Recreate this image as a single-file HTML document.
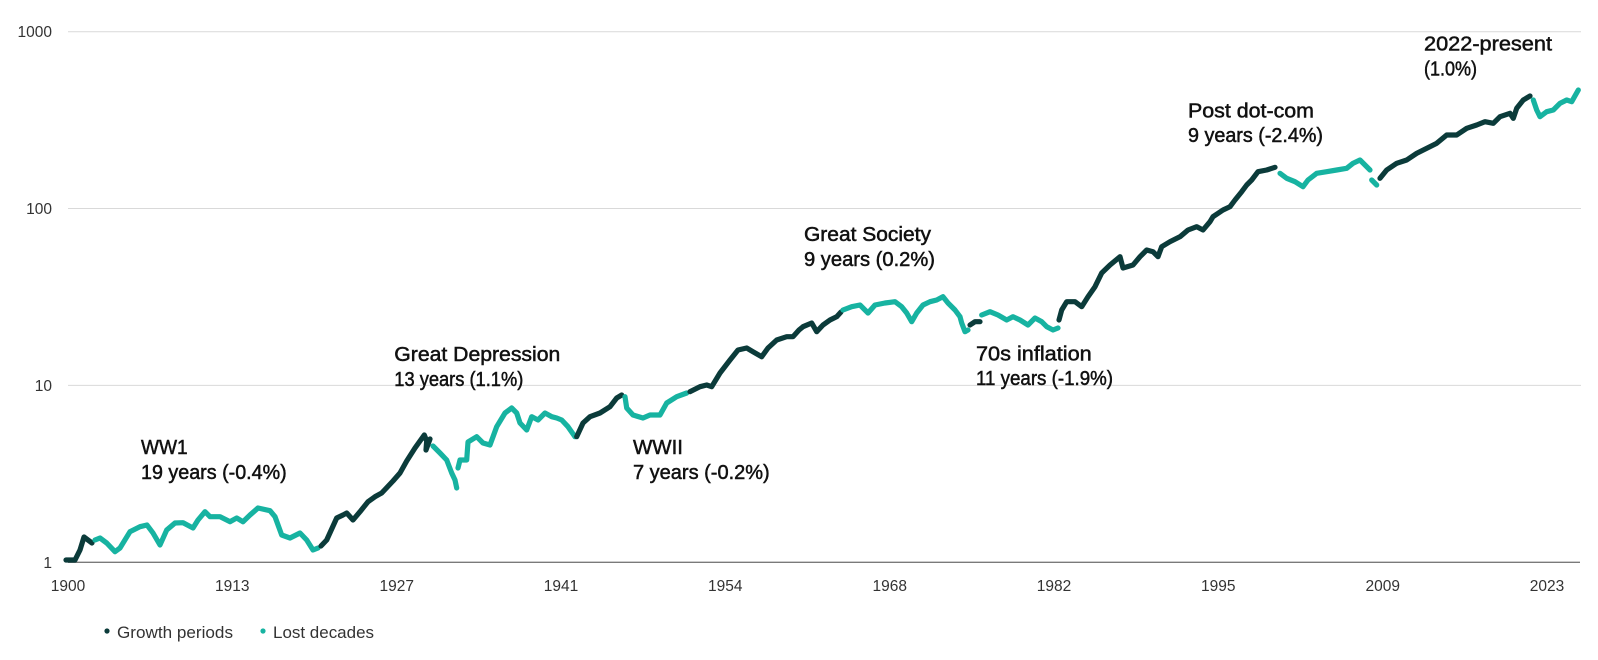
<!DOCTYPE html>
<html>
<head>
<meta charset="utf-8">
<style>
  html,body{margin:0;padding:0;background:#fff;}
  body{width:1598px;height:660px;overflow:hidden;}
  svg{display:block;}
  .ax{font-family:"Liberation Sans",sans-serif;font-size:15.5px;fill:#333;}
  .ann{font-family:"Liberation Sans",sans-serif;font-size:20px;fill:#111;stroke:#111;stroke-width:0.5px;}
  .leg{font-family:"Liberation Sans",sans-serif;font-size:16.5px;fill:#333;}
  .d{fill:none;stroke:#0b3b3a;stroke-width:5.2;stroke-linejoin:round;stroke-linecap:round;}
  .t{fill:none;stroke:#17b3a1;stroke-width:5.2;stroke-linejoin:round;stroke-linecap:round;}
</style>
</head>
<body>
<svg width="1598" height="660" viewBox="0 0 1598 660" xmlns="http://www.w3.org/2000/svg">
  <!-- gridlines -->
  <line x1="68" y1="31.7" x2="1581" y2="31.7" stroke="#d9d9d9" stroke-width="1"/>
  <line x1="68" y1="208.5" x2="1581" y2="208.5" stroke="#d9d9d9" stroke-width="1"/>
  <line x1="68" y1="385.4" x2="1581" y2="385.4" stroke="#d9d9d9" stroke-width="1"/>
  <line x1="68" y1="562.3" x2="1580" y2="562.3" stroke="#7a7a7a" stroke-width="1.4"/>

  <!-- y labels -->
  <text class="ax" x="52" y="37" text-anchor="end">1000</text>
  <text class="ax" x="52" y="214" text-anchor="end">100</text>
  <text class="ax" x="52" y="391" text-anchor="end">10</text>
  <text class="ax" x="52" y="568" text-anchor="end">1</text>

  <!-- x labels -->
  <text class="ax" x="68" y="591" text-anchor="middle">1900</text>
  <text class="ax" x="232.3" y="591" text-anchor="middle">1913</text>
  <text class="ax" x="396.7" y="591" text-anchor="middle">1927</text>
  <text class="ax" x="561" y="591" text-anchor="middle">1941</text>
  <text class="ax" x="725.3" y="591" text-anchor="middle">1954</text>
  <text class="ax" x="889.7" y="591" text-anchor="middle">1968</text>
  <text class="ax" x="1054" y="591" text-anchor="middle">1982</text>
  <text class="ax" x="1218.3" y="591" text-anchor="middle">1995</text>
  <text class="ax" x="1382.7" y="591" text-anchor="middle">2009</text>
  <text class="ax" x="1547" y="591" text-anchor="middle">2023</text>

  <!-- series -->
  <polyline class="d" points="66,560 75,560 80,550 84,537 88,540 92,543"/>
  <polyline class="t" points="95,540 100,538 106.7,543 115,551.7 120,548 130,531.7 140,526.7 147,525 153,533 160,545 166.7,530 175,523 183,522.7 193,528 198,520 205,511.7 210,516.7 220,516.7 230,521.7 236.7,518 243,521.7 250,515 258,508 270,510.7 275,516.7 281.7,535 290,538 300,533 306.7,540 313,550 318,548"/>
  <polyline class="d" points="321,546 326.7,540 336.7,518 343,515 346.7,513 353,520 360,511.7 368,501.7 375,496.7 381.7,493 393,481 400,473 406.7,461 415,448 420,441 424.3,435 426.7,441 426,450 430,439"/>
  <polyline class="t" points="433,446 440,453 446.7,460 451.7,473 455,480 456.7,488"/>
  <polyline class="t" points="458,468 460,460 466.7,460 468,442 476.7,436.7 483,443 490,445 496.7,426.7 505,413 511.7,408 516.7,413 520,423 526.7,430 531.7,416.7 538,420 545,413 551.7,416.7 556.7,418 561.7,420 568,426.7 575,436.7"/>
  <polyline class="d" points="576.7,436.7 583,423 590,416.7 600,413 610,406.7 616.7,398 621.7,395"/>
  <polyline class="t" points="625,396.7 626.7,408 633,415 643,418 650,415 660,415 666.7,403 676.7,396.7 686.7,393"/>
  <polyline class="d" points="690,391.7 700,386.7 706.7,385 711.7,386.7 720,373 730,360 738,350 746.7,348 753,351.7 761.7,356.7 768,348 776.7,340 786.7,336.7 793,336.7 799,330 803,326.7 811.7,323 816.7,331.7 823,325 830,320 836.7,316.7 841,312"/>
  <polyline class="t" points="843,310 851.7,306.7 860,305 868,313 875,305 885,303 895,301.7 901.7,306.7 906.7,313 911.7,321.7 916.7,313 923,305 930,301.7 936.7,300 943,296.7 948,303 955,310 960,316.7 961.7,323 965,331.7 968,330"/>
  <polyline class="d" points="970,325 975,321.7 980,321.7"/>
  <polyline class="t" points="981.7,315 990,311.7 998,315 1006.7,320 1013,316.7 1020,320 1028,325 1035,318 1041.7,321.7 1046.7,326.7 1053,330 1058,328"/>
  <polyline class="d" points="1059,320 1061.7,310 1066.7,301.7 1075,301.7 1081.7,306.7 1088,296.7 1095,286.7 1101.7,273 1110,265 1120,256.7 1123,268 1133,265 1140,256.7 1146.7,250 1153,251.7 1158,256.7 1161.7,246.7 1170,241.7 1180,236.7 1188,230 1196.7,226.7 1203,230 1210,221.7 1213,216.7 1223,210 1230,206.7 1235,200 1241.7,191.7 1246.7,185 1251.7,180 1258,171.7 1266.7,170 1275,167.3"/>
  <polyline class="t" points="1280,173.3 1286.7,178.3 1295,181.7 1303,186.7 1308,180 1316.7,173.3 1326.7,171.7 1336.7,170 1346.7,168.3 1353,163.3 1360,160 1365,165 1370,170"/>
  <polyline class="t" points="1371.7,180 1376.7,185"/>
  <polyline class="d" points="1380,178.3 1386.7,170 1396.7,163.3 1406.7,160 1416.7,153.3 1426.7,148.3 1436.7,143.3 1446.7,135 1456.7,135 1466.7,128.3 1476.7,125 1485,121.7 1493.3,123.3 1500,116.7 1510,113.3 1513.3,118.3 1516.7,108.3 1523.3,100 1530,96"/>
  <polyline class="t" points="1533.3,100 1536.7,110 1540,116.7 1546.7,111.7 1553.3,110 1560,103.3 1566.7,100 1571.7,101.7 1578.3,90"/>

  <!-- annotations -->
  <text class="ann" x="141" y="454" textLength="46.7" lengthAdjust="spacingAndGlyphs">WW1</text>
  <text class="ann" x="141" y="479" textLength="145.7" lengthAdjust="spacingAndGlyphs">19 years (-0.4%)</text>

  <text class="ann" x="394.3" y="361" textLength="166" lengthAdjust="spacingAndGlyphs">Great Depression</text>
  <text class="ann" x="394.3" y="386" textLength="129" lengthAdjust="spacingAndGlyphs">13 years (1.1%)</text>

  <text class="ann" x="633" y="454" textLength="50" lengthAdjust="spacingAndGlyphs">WWII</text>
  <text class="ann" x="633" y="479" textLength="136.7" lengthAdjust="spacingAndGlyphs">7 years (-0.2%)</text>

  <text class="ann" x="804" y="241" textLength="127" lengthAdjust="spacingAndGlyphs">Great Society</text>
  <text class="ann" x="804" y="266" textLength="131" lengthAdjust="spacingAndGlyphs">9 years (0.2%)</text>

  <text class="ann" x="976" y="360.7" textLength="115.7" lengthAdjust="spacingAndGlyphs">70s inflation</text>
  <text class="ann" x="976" y="385" textLength="137" lengthAdjust="spacingAndGlyphs">11 years (-1.9%)</text>

  <text class="ann" x="1188" y="117.3" textLength="126" lengthAdjust="spacingAndGlyphs">Post dot-com</text>
  <text class="ann" x="1188" y="142" textLength="135" lengthAdjust="spacingAndGlyphs">9 years (-2.4%)</text>

  <text class="ann" x="1424" y="50.7" textLength="128" lengthAdjust="spacingAndGlyphs">2022-present</text>
  <text class="ann" x="1424" y="75.5" textLength="53" lengthAdjust="spacingAndGlyphs">(1.0%)</text>

  <!-- legend -->
  <circle cx="107" cy="631" r="2.6" fill="#0b3b3a"/>
  <text class="leg" x="117" y="638" textLength="116" lengthAdjust="spacingAndGlyphs">Growth periods</text>
  <circle cx="263" cy="631" r="2.6" fill="#17b3a1"/>
  <text class="leg" x="273" y="638" textLength="101" lengthAdjust="spacingAndGlyphs">Lost decades</text>
</svg>
</body>
</html>
